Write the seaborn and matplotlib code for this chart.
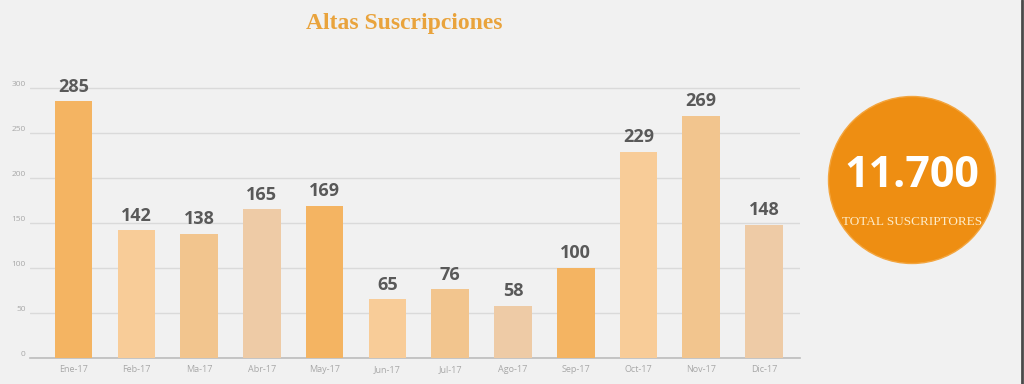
import numpy as np
import pandas as pd
import matplotlib
matplotlib.use('Agg')
import matplotlib.pyplot as plt
import seaborn as sns
from matplotlib.patches import Circle

# datos del gráfico
meses = ['Ene-17', 'Feb-17', 'Ma-17', 'Abr-17', 'May-17', 'Jun-17',
         'Jul-17', 'Ago-17', 'Sep-17', 'Oct-17', 'Nov-17', 'Dic-17']
altas = [285, 142, 138, 165, 169, 65, 76, 58, 100, 229, 269, 148]
colores = ['#F4B462', '#F8CC98', '#F2C58E', '#EECBA6',
           '#F4B462', '#F8CC98', '#F2C58E', '#EECBA6',
           '#F4B462', '#F8CC98', '#F2C58E', '#EECBA6']
total_texto = '11.700'
total_sub = 'TOTAL SUSCRIPTORES'
titulo = 'Altas Suscripciones'

sns.set_theme(style='white')
plt.rcParams['font.family'] = ['Open Sans', 'DejaVu Sans']

df = pd.DataFrame({'mes': meses, 'altas': altas})

fig = plt.figure(figsize=(10.24, 3.84), dpi=100)
fig.patch.set_facecolor('#F1F1F1')

ax = fig.add_axes([0.029, 0.068, 0.752, 0.750])
ax.set_facecolor('none')
sns.barplot(data=df, x='mes', y='altas', hue='mes', palette=colores,
            legend=False, width=0.6, saturation=1, linewidth=0,
            ax=ax, zorder=3)

ax.set_xlim(-0.7, 11.57)
ax.set_ylim(0, 320)
ax.set_yticks(range(0, 301, 50))
ax.yaxis.grid(True, color='#DADADA', linewidth=1, zorder=0)
ax.set_xlabel('')
ax.set_ylabel('')
for s in ['top', 'right', 'left']:
    ax.spines[s].set_visible(False)
ax.spines['bottom'].set_color('#BDBDBD')
ax.spines['bottom'].set_linewidth(1.2)
ax.tick_params(axis='x', labelsize=6.5, colors='#A8A8A8', length=0, pad=5)
ax.tick_params(axis='y', labelsize=6, colors='#A8A8A8', length=0, pad=3)
for lab in ax.get_yticklabels():
    lab.set_verticalalignment('bottom')

# etiquetas de valor
for i, v in enumerate(altas):
    ax.text(i, v + 6, str(v), ha='center', va='bottom', fontsize=13,
            fontweight='bold', color='#595959')

# título
fig.text(0.395, 0.94, titulo, ha='center', va='center', fontsize=17,
         fontweight='bold', color='#E9A33C', family='Liberation Serif')

# círculo con el total
axc = fig.add_axes([826 / 1024, (384 - 266) / 384, 172 / 1024, 172 / 384])
axc.set_xlim(-1.03, 1.03)
axc.set_ylim(-1.03, 1.03)
axc.set_aspect('equal')
axc.axis('off')
axc.add_patch(Circle((0, 0), 1, color='#EE8E12', ec='#F3A53E', lw=1))
axc.text(0, 0.05, total_texto, ha='center', va='center', fontsize=31,
         fontweight='bold', color='white')
axc.text(0, -0.5, total_sub, ha='center', va='center', fontsize=9.5,
         color='#FDEBC8', family='Liberation Serif')

# borde derecho
fig.add_artist(plt.Line2D([0.998, 0.998], [0, 1], color='#4A4A4A', linewidth=2))

fig.savefig('out.png', dpi=100, facecolor=fig.get_facecolor())
